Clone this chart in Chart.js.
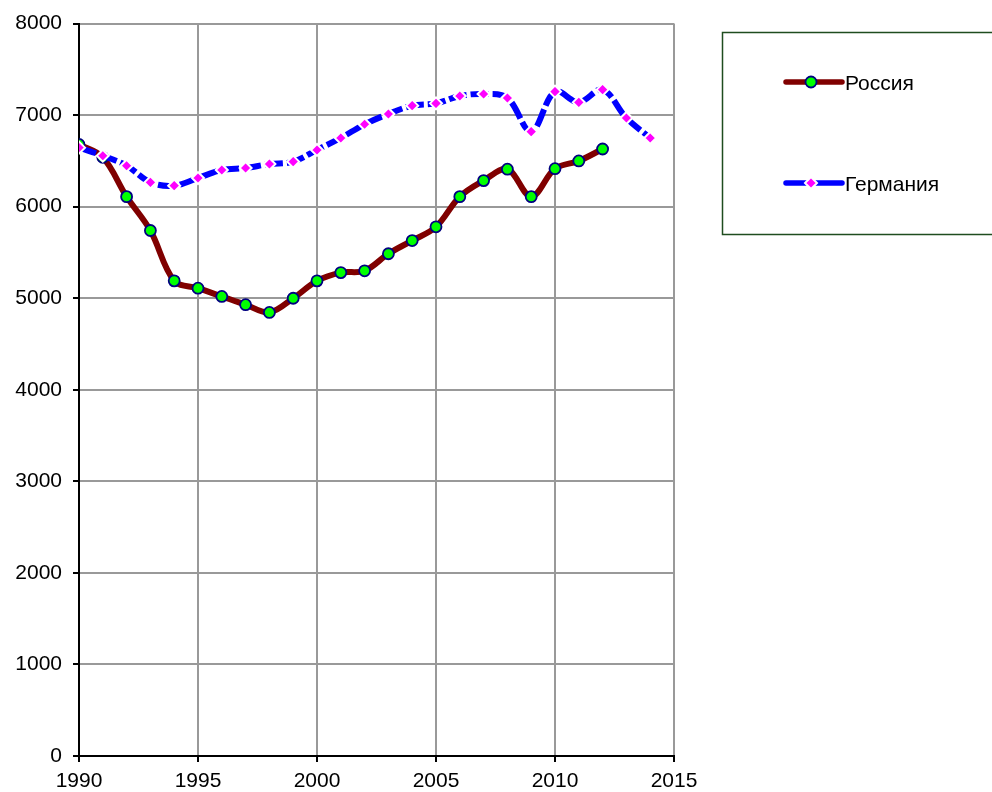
<!DOCTYPE html>
<html>
<head>
<meta charset="utf-8">
<script src="https://cdn.jsdelivr.net/npm/chart.js@4.4.0/dist/chart.umd.min.js"></script>
<style>
  html, body { margin: 0; padding: 0; background: #fff; }
  #wrap { width: 992px; height: 792px; position: relative; }
</style>
</head>
<body>
<div id="wrap"><canvas id="chart" width="992" height="792"></canvas></div>
<script>
// Data
const yearsRussia = [1990, 1991, 1992, 1993, 1994, 1995, 1996, 1997, 1998, 1999, 2000, 2001,
    2002, 2003, 2004, 2005, 2006, 2007, 2008, 2009, 2010, 2011, 2012];
const russia = [6680, 6540, 6110, 5740, 5190, 5110, 5020, 4930, 4845, 5000, 5190, 5280,
    5300, 5486, 5630, 5780, 6110, 6285, 6410, 6110, 6415, 6500, 6630];

const yearsGermany = [1990, 1991, 1992, 1993, 1994, 1995, 1996, 1997, 1998, 1999, 2000, 2001,
    2002, 2003, 2004, 2005, 2006, 2007, 2008, 2009, 2010, 2011, 2012, 2013, 2014];
const germany = [6645, 6557, 6448, 6266, 6230, 6313, 6401, 6423, 6466, 6492, 6620, 6751,
    6900, 7013, 7104, 7129, 7209, 7231, 7188, 6820, 7257, 7140, 7279, 6969, 6751];

const seriesNames = ['Россия', 'Германия'];

function toPoints(xs, ys) {
    return xs.map((x, i) => ({ x: x, y: ys[i] }));
}

const FONT = 'Arial, "Liberation Sans", sans-serif';

// Custom legend box like the spreadsheet original
const legendBox = {
    id: 'legendBox',
    afterDraw(chart) {
        const c = chart.ctx;
        c.save();
        c.strokeStyle = '#1f4d1f';
        c.lineWidth = 1.5;
        c.strokeRect(722.5, 32.5, 272, 202);

        const rows = [82, 183];
        chart.data.datasets.forEach((ds, i) => {
            const y = rows[i];
            c.strokeStyle = ds.borderColor;
            c.lineWidth = 5.5;
            c.lineCap = 'round';
            c.setLineDash([]);
            c.beginPath();
            c.moveTo(786, y);
            c.lineTo(842, y);
            c.stroke();

            const mx = 811;
            c.fillStyle = ds.pointBackgroundColor;
            c.strokeStyle = ds.pointBorderColor;
            c.lineWidth = ds.pointBorderWidth;
            c.beginPath();
            if (ds.pointStyle === 'circle') {
                c.arc(mx, y, ds.pointRadius, 0, Math.PI * 2);
            } else {
                const r = ds.pointRadius;
                c.moveTo(mx, y - r);
                c.lineTo(mx + r, y);
                c.lineTo(mx, y + r);
                c.lineTo(mx - r, y);
                c.closePath();
            }
            c.fill();
            c.stroke();

            c.fillStyle = '#000';
            c.font = '21px ' + FONT;
            c.textBaseline = 'middle';
            c.textAlign = 'left';
            c.fillText(ds.label, 845, y + 2);
        });
        c.restore();
    }
};

const ctx = document.getElementById('chart').getContext('2d');
new Chart(ctx, {
    type: 'line',
    data: {
        datasets: [{
            label: seriesNames[0],
            data: toPoints(yearsRussia, russia),
            borderColor: '#800000',
            borderWidth: 6,
            tension: 0.35,
            pointStyle: 'circle',
            pointRadius: 5.5,
            pointBackgroundColor: '#00ff00',
            pointBorderColor: '#000080',
            pointBorderWidth: 1.8,
            order: 1
        }, {
            label: seriesNames[1],
            data: toPoints(yearsGermany, germany),
            borderColor: '#0000ff',
            borderWidth: 6,
            borderDash: [18, 4],
            tension: 0.35,
            pointStyle: 'rectRot',
            pointRadius: 6,
            pointBackgroundColor: '#ff00ff',
            pointBorderColor: '#ffffff',
            pointBorderWidth: 2,
            order: 0
        }]
    },
    options: {
        responsive: false,
        animation: false,
        layout: { padding: { top: 23, right: 318, left: 0, bottom: 0 } },
        plugins: {
            legend: { display: false },
            tooltip: { enabled: false }
        },
        scales: {
            x: {
                type: 'linear',
                min: 1990,
                max: 2015,
                afterFit: s => { s.height = 36; },
                ticks: {
                    stepSize: 5,
                    color: '#000',
                    font: { family: FONT, size: 21 },
                    padding: 7,
                    maxRotation: 0,
                    callback: v => String(v)
                },
                grid: { color: '#999999', lineWidth: 2, tickLength: 6, tickColor: '#000', tickWidth: 2 },
                border: { color: '#000', width: 2 }
            },
            y: {
                min: 0,
                max: 8000,
                afterFit: s => { s.width = 79; },
                ticks: {
                    stepSize: 1000,
                    color: '#000',
                    font: { family: FONT, size: 21 },
                    padding: 11,
                    callback: v => String(v)
                },
                grid: { color: '#999999', lineWidth: 2, tickLength: 6, tickColor: '#000', tickWidth: 2 },
                border: { color: '#000', width: 2 }
            }
        }
    },
    plugins: [legendBox]
});
</script>
</body>
</html>
